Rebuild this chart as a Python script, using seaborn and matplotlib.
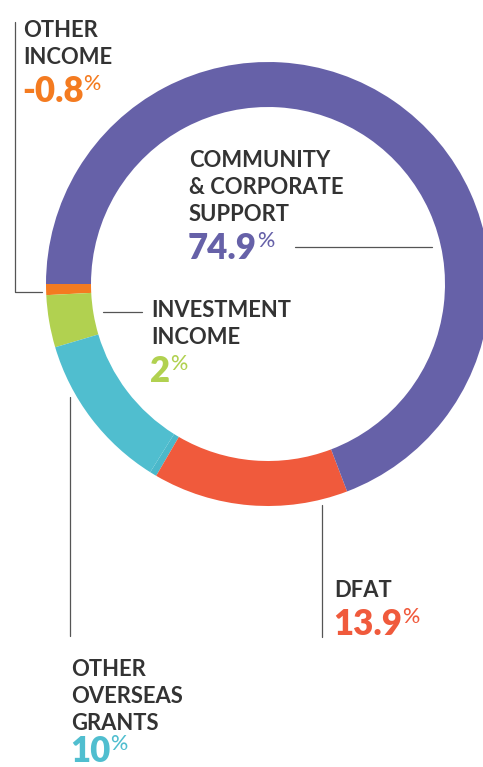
"""
Income breakdown donut chart.
"""

import matplotlib.pyplot as plt
import seaborn as sns

# slices in drawing order (clockwise from 9 o'clock), share of the ring as drawn
slice_names = ["OTHER INCOME", "INVESTMENT INCOME", "OTHER OVERSEAS GRANTS",
               "OTHER OVERSEAS GRANTS (2)", "DFAT", "COMMUNITY & CORPORATE SUPPORT"]
arc_share = [0.8, 3.8, 11.5, 0.5, 14.2, 69.2]
slice_colors = ["#F47B20", "#B1D150", "#50BECF", "#4BB8CA", "#F05A3C", "#6661A8"]

# labels as printed
label_lines = [
    ["OTHER", "INCOME"],
    ["COMMUNITY", "& CORPORATE", "SUPPORT"],
    ["INVESTMENT", "INCOME"],
    ["DFAT"],
    ["OTHER", "OVERSEAS", "GRANTS"],
]
label_pct = ["-0.8", "74.9", "2", "13.9", "10"]
label_colors = ["#F47B20", "#6661A8", "#B1D150", "#F05A3C", "#50BECF"]
label_xy = [(23, 37), (189, 167), (151, 317), (334, 597), (71, 676)]  # first baseline

W, H = 483, 767
sns.set_theme(style="white")
plt.rcParams["font.family"] = ["Lato", "DejaVu Sans"]

fig = plt.figure(figsize=(W / 100, H / 100), dpi=100)
ax = fig.add_axes([0, 0, 1, 1])

ax.pie(arc_share, colors=slice_colors, startangle=180, counterclock=False,
       center=(268, 284), radius=222,
       wedgeprops=dict(width=45, linewidth=0, antialiased=True))
ax.set_xlim(0, W)
ax.set_ylim(H, 0)
ax.set_aspect("equal")
ax.axis("off")

dark = "#333333"
line_gap = 27
for lines, pct, col, (x, y0) in zip(label_lines, label_pct, label_colors, label_xy):
    for i, s in enumerate(lines):
        ax.text(x, y0 + i * line_gap, s, fontsize=15.8, fontweight="bold",
                color=dark, va="baseline", ha="left")
    yb = min(y0 + (len(lines) - 1) * line_gap + 38, 762)
    t = ax.text(x - 1, yb, pct, fontsize=25, fontweight="heavy",
                color=col, va="baseline", ha="left")
    ax.annotate("%", xy=(1, 1), xycoords=t, xytext=(0, 0.5),
                textcoords="offset points", fontsize=15.5, fontweight="medium",
                color=col, va="top", ha="left")

# leader lines
lc = "#555555"
lw = 0.9
ax.plot([15, 15, 42], [22, 292, 292], color=lc, lw=lw)
ax.plot([295, 432], [247, 247], color=lc, lw=lw)
ax.plot([103, 142], [312, 312], color=lc, lw=lw)
ax.plot([322, 322], [505, 637], color=lc, lw=lw)
ax.plot([70, 70], [397, 636], color=lc, lw=lw)

fig.savefig("out.png", dpi=100)
plt.close(fig)
